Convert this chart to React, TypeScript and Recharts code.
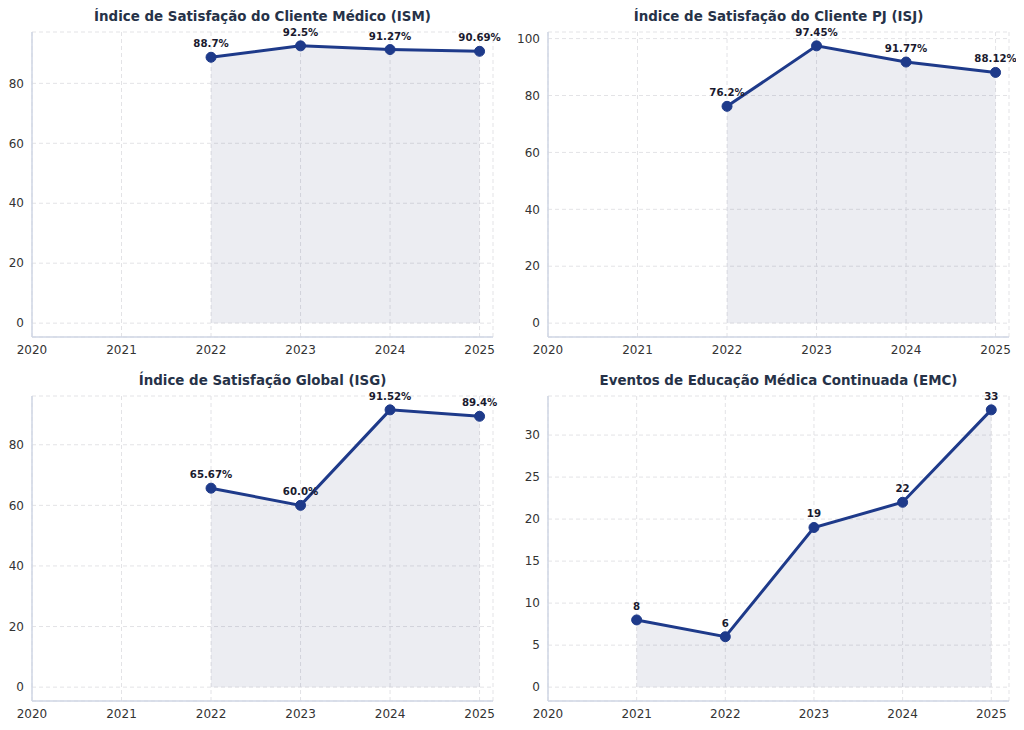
import { Area, CartesianGrid, ComposedChart, LabelList, XAxis, YAxis } from "recharts";

const ismYears = [2022, 2023, 2024, 2025];
const ismValues = [88.7, 92.5, 91.27, 90.69];

const isjYears = [2022, 2023, 2024, 2025];
const isjValues = [76.2, 97.45, 91.77, 88.12];

const isgYears = [2022, 2023, 2024, 2025];
const isgValues = [65.67, 60.0, 91.52, 89.4];

const emcYears = [2021, 2022, 2023, 2024, 2025];
const emcValues = [8, 6, 19, 22, 33];

const yearTicks = [2020, 2021, 2022, 2023, 2024, 2025];

const LINE = "#1e3a8a";
const FONT = "'DejaVu Sans', sans-serif";

function pct(v: any) {
  const n = Number(v);
  return (Number.isInteger(n) ? n.toFixed(1) : String(n)) + "%";
}

function plain(v: any) {
  return String(v);
}

type PanelProps = {
  title: string;
  left: number;
  top: number;
  years: number[];
  values: number[];
  xMax: number;
  yDomain: [number, number];
  yTicks: number[];
  format: (v: any) => string;
};

function Panel(props: PanelProps) {
  const rows = props.years.map((year, i) => ({ year, value: props.values[i] }));
  return (
    <div
      style={{ position: "absolute", left: props.left, top: props.top, width: 512, height: 365 }}
    >
      <ComposedChart
        width={512}
        height={365}
        data={rows}
        margin={{ top: 32, right: 19, bottom: 0, left: 0 }}
      >
        <CartesianGrid stroke="#e3e3e6" strokeDasharray="4 3" />
        <XAxis
          type="number"
          dataKey="year"
          domain={[2020, props.xMax]}
          ticks={yearTicks}
          allowDataOverflow
          height={28}
          tickLine={false}
          axisLine={{ stroke: "#cfd6e4", strokeWidth: 1.5 }}
          tick={{ fill: "#333333", fontSize: 12, fontFamily: FONT }}
        />
        <YAxis
          type="number"
          domain={props.yDomain}
          ticks={props.yTicks}
          allowDataOverflow
          width={32}
          tickLine={false}
          axisLine={{ stroke: "#cfd6e4", strokeWidth: 1.5 }}
          tick={{ fill: "#333333", fontSize: 12, fontFamily: FONT }}
        />
        <Area
          type="linear"
          dataKey="value"
          baseValue={0}
          stroke={LINE}
          strokeWidth={3}
          fill="#2a3670"
          fillOpacity={0.09}
          dot={{ r: 5, fill: LINE, stroke: LINE, strokeWidth: 1, fillOpacity: 1 }}
          activeDot={false}
          isAnimationActive={false}
        >
          <LabelList
            dataKey="value"
            position="top"
            offset={10}
            formatter={props.format}
            style={{ fill: "#1a1a2e", fontSize: 10.2, fontWeight: "bold", fontFamily: FONT }}
          />
        </Area>
      </ComposedChart>
      <div
        style={{
          position: "absolute",
          left: 32,
          width: 461,
          top: 9,
          lineHeight: "16px",
          textAlign: "center",
          fontFamily: FONT,
          fontWeight: "bold",
          fontSize: 13.4,
          color: "#263248",
        }}
      >
        {props.title}
      </div>
    </div>
  );
}

function App() {
  return (
    <div style={{ position: "relative", width: 1024, height: 730, margin: -8, background: "#ffffff" }}>
      <Panel
        title="Índice de Satisfação do Cliente Médico (ISM)"
        left={0}
        top={0}
        years={ismYears}
        values={ismValues}
        xMax={2025.15}
        yDomain={[-4.625, 97.125]}
        yTicks={[0, 20, 40, 60, 80]}
        format={pct}
      />
      <Panel
        title="Índice de Satisfação do Cliente PJ (ISJ)"
        left={516}
        top={0}
        years={isjYears}
        values={isjValues}
        xMax={2025.15}
        yDomain={[-4.8725, 102.3225]}
        yTicks={[0, 20, 40, 60, 80, 100]}
        format={pct}
      />
      <Panel
        title="Índice de Satisfação Global (ISG)"
        left={0}
        top={364}
        years={isgYears}
        values={isgValues}
        xMax={2025.15}
        yDomain={[-4.576, 96.096]}
        yTicks={[0, 20, 40, 60, 80]}
        format={pct}
      />
      <Panel
        title="Eventos de Educação Médica Continuada (EMC)"
        left={516}
        top={364}
        years={emcYears}
        values={emcValues}
        xMax={2025.2}
        yDomain={[-1.65, 34.65]}
        yTicks={[0, 5, 10, 15, 20, 25, 30]}
        format={plain}
      />
    </div>
  );
}

export default App;
